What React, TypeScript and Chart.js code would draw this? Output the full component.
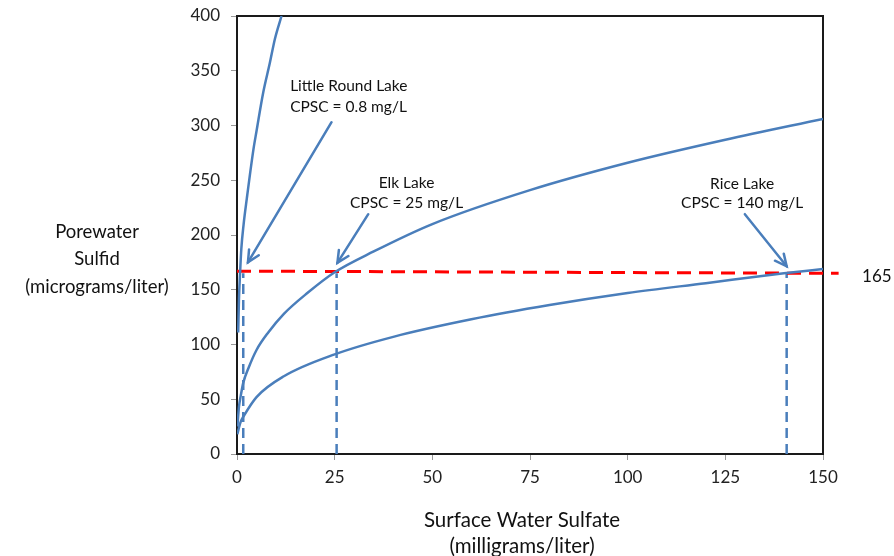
import React, { useEffect, useRef } from "react";
import { Chart, registerables } from "chart.js";

Chart.register(...registerables);

// ---- data ----
const littleRoundX = [0.3, 0.5, 0.8, 1.1, 1.7, 2.5, 4.2, 5.0, 6.7, 8.4, 9.7, 11.4];
const littleRoundY = [111, 141, 166, 187, 210, 233, 278, 295, 330, 357, 379, 400];

const elkX = [0.1, 0.5, 1, 1.6, 3, 5, 8, 12, 18, 25, 35, 50, 75, 100, 125, 150];
const elkY = [25, 43, 54, 65, 79, 95, 111, 128, 147, 166, 185, 210, 241, 266, 287, 306];

const riceX = [0.1, 0.5, 1, 1.6, 5, 12, 25, 40, 60, 80, 100, 120, 140, 150];
const riceY = [18, 24, 30, 34, 52, 71, 91, 107, 123, 136, 147, 156, 165, 169];

const thresholdX = [0, 154];
const thresholdY = [167, 165];

const cpscX = [1.6, 25.5, 140.7];
const cpscTop = 165;

const arrowFrom = [
  [24.2, 303],
  [33.6, 219],
  [130, 219],
];
const arrowTo = [
  [2.8, 175],
  [25.7, 174.5],
  [140.7, 171.4],
];

const noteLines = [
  ["Little Round Lake", "CPSC = 0.8 mg/L"],
  ["Elk Lake", "CPSC = 25 mg/L"],
  ["Rice Lake", "CPSC = 140 mg/L"],
];
const noteX = [13.6, 43.4, 129.3];
const noteY = [
  [336.2, 317.3],
  [247.8, 229.5],
  [246.2, 228.8],
];
const noteAlign = ["left", "center", "center"];

const thresholdLabel = "165";
const thresholdLabelPos = [163.8, 162.3];

const xTitle = ["Surface Water Sulfate", "(milligrams/liter)"];
const yTitle = ["Porewater", "Sulfid", "(micrograms/liter)"];

const xMin = 0, xMax = 150, xStep = 25;
const yMin = 0, yMax = 400, yStep = 50;

const BLUE = "#4a7ebb";
const RED = "#ff0000";
const FONT = "Lato, 'Open Sans', sans-serif";

const pts = (xs: number[], ys: number[]) => xs.map((x, i) => ({ x, y: ys[i] }));

export default function App() {
  const ref = useRef<HTMLCanvasElement | null>(null);

  useEffect(() => {
    const canvas = ref.current;
    if (!canvas) return;

    const overlay = {
      id: "overlay",
      beforeDatasetsDraw(chart: any) {
        const { ctx, chartArea: a } = chart;
        ctx.save();
        ctx.strokeStyle = "#1a1a1a";
        ctx.lineWidth = 2;
        ctx.strokeRect(a.left, a.top, a.right - a.left, a.bottom - a.top);
        ctx.restore();
      },
      afterDatasetsDraw(chart: any) {
        const { ctx } = chart;
        const xs = chart.scales.x;
        const ys = chart.scales.y;
        const px = (v: number) => xs.getPixelForValue(v);
        const py = (v: number) => ys.getPixelForValue(v);
        ctx.save();
        // arrows
        ctx.strokeStyle = BLUE;
        ctx.lineWidth = 2.5;
        ctx.lineCap = "round";
        arrowFrom.forEach((f, i) => {
          const t = arrowTo[i];
          const x1 = px(f[0]), y1 = py(f[1]), x2 = px(t[0]), y2 = py(t[1]);
          ctx.beginPath();
          ctx.moveTo(x1, y1);
          ctx.lineTo(x2, y2);
          ctx.stroke();
          const ang = Math.atan2(y2 - y1, x2 - x1);
          const len = 13, spread = 0.45;
          ctx.beginPath();
          ctx.moveTo(x2 - len * Math.cos(ang - spread), y2 - len * Math.sin(ang - spread));
          ctx.lineTo(x2, y2);
          ctx.lineTo(x2 - len * Math.cos(ang + spread), y2 - len * Math.sin(ang + spread));
          ctx.stroke();
        });
        // notes
        ctx.fillStyle = "#111";
        ctx.font = `15.5px ${FONT}`;
        ctx.textBaseline = "middle";
        noteLines.forEach((lines, i) => {
          ctx.textAlign = noteAlign[i] as CanvasTextAlign;
          lines.forEach((s, j) => ctx.fillText(s, px(noteX[i]), py(noteY[i][j])));
        });
        ctx.font = `17px ${FONT}`;
        ctx.textAlign = "center";
        ctx.fillText(thresholdLabel, px(thresholdLabelPos[0]), py(thresholdLabelPos[1]));
        // axis titles
        ctx.fillStyle = "#111";
        ctx.font = `20.5px ${FONT}`;
        const xc = (xs.left + xs.right) / 2 - 8;
        xTitle.forEach((s, j) => ctx.fillText(s, xc, 520 + j * 26));
        ctx.font = `18.5px ${FONT}`;
        const yc = 97;
        yTitle.forEach((s, j) => ctx.fillText(s, yc, 232 + j * 27.5));
        ctx.restore();
      },
    };

    const curve = (xs: number[], ys: number[]) => ({
      data: pts(xs, ys),
      borderColor: BLUE,
      borderWidth: 2.5,
      pointRadius: 0,
      cubicInterpolationMode: "monotone" as const,
      fill: false,
    });

    const datasets: any[] = [
      curve(littleRoundX, littleRoundY),
      curve(elkX, elkY),
      curve(riceX, riceY),
      {
        data: pts(thresholdX, thresholdY),
        borderColor: RED,
        borderWidth: 3,
        borderDash: [14, 8],
        pointRadius: 0,
        clip: false,
      },
      ...cpscX.map((x) => ({
        data: [
          { x, y: 0 },
          { x, y: cpscTop },
        ],
        borderColor: BLUE,
        borderWidth: 2.5,
        borderDash: [10, 6],
        pointRadius: 0,
      })),
    ];

    const chart = new Chart(canvas, {
      type: "line",
      data: { datasets },
      options: {
        animation: false,
        responsive: false,
        events: [],
        layout: { padding: { left: 0, right: 71, top: 16, bottom: 0 } },
        plugins: { legend: { display: false }, tooltip: { enabled: false } },
        scales: {
          x: {
            type: "linear",
            min: xMin,
            max: xMax,
            afterFit: (s: any) => {
              s.height = 102;
              s.paddingLeft = 0;
              s.paddingRight = 0;
            },
            ticks: {
              stepSize: xStep,
              color: "#222",
              font: { family: FONT, size: 17 },
              padding: 7,
              maxRotation: 0,
            },
            grid: { drawOnChartArea: false, drawTicks: true, tickLength: 6, color: "#999" },
            border: { display: false },
          },
          y: {
            type: "linear",
            min: yMin,
            max: yMax,
            afterFit: (s: any) => {
              s.width = 237;
              s.paddingTop = 0;
              s.paddingBottom = 0;
            },
            ticks: {
              stepSize: yStep,
              color: "#222",
              font: { family: FONT, size: 17 },
              padding: 11,
            },
            grid: { drawOnChartArea: false, drawTicks: true, tickLength: 6, color: "#999" },
            border: { display: false },
          },
        },
      },
      plugins: [overlay],
    });

    return () => chart.destroy();
  }, []);

  return (
    <div style={{ position: "fixed", left: 0, top: 0, width: 894, height: 556, background: "#fff" }}>
      <canvas ref={ref} width={894} height={556} style={{ width: 894, height: 556 }} />
    </div>
  );
}
